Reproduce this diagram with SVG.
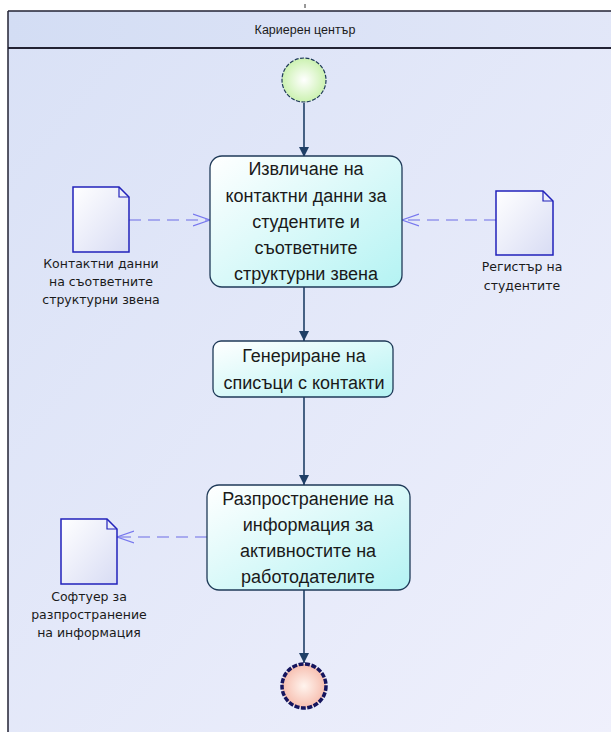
<svg xmlns="http://www.w3.org/2000/svg" width="611" height="734" viewBox="0 0 611 734">
<defs>
<linearGradient id="bg" x1="0" y1="0" x2="1" y2="1"><stop offset="0" stop-color="#d9e1f6"/><stop offset="1" stop-color="#eff0fc"/></linearGradient>
<linearGradient id="hdr" x1="0" y1="0" x2="1" y2="0"><stop offset="0" stop-color="#d3ddf4"/><stop offset="1" stop-color="#e2e7f8"/></linearGradient>
<linearGradient id="act" x1="0" y1="0" x2="1" y2="1"><stop offset="0" stop-color="#ffffff"/><stop offset="1" stop-color="#b4f3f3"/></linearGradient>
<linearGradient id="doc" x1="0" y1="0" x2="1" y2="1"><stop offset="0" stop-color="#ffffff"/><stop offset="1" stop-color="#d8dcf4"/></linearGradient>
<radialGradient id="startg" cx="0.5" cy="0.5" r="0.55"><stop offset="0" stop-color="#ffffff"/><stop offset="1" stop-color="#c6f0a8"/></radialGradient>
<radialGradient id="endg" cx="0.5" cy="0.5" r="0.55"><stop offset="0" stop-color="#fff4ee"/><stop offset="1" stop-color="#f6b8a8"/></radialGradient>
<marker id="solid" markerWidth="12" markerHeight="12" refX="10" refY="5" orient="auto" markerUnits="userSpaceOnUse"><path d="M0,0 L10,5 L0,10 z" fill="#1f3f66"/></marker>
<marker id="open" markerWidth="20" markerHeight="16" refX="17" refY="8" orient="auto" markerUnits="userSpaceOnUse"><path d="M0,2 L17,8 L0,14" fill="none" stroke="#7777ee" stroke-width="1.2"/></marker>
</defs>
<style>
.t{font-family:"Liberation Sans",Arial,sans-serif;fill:#1a1a1a;text-anchor:middle}
.big{font-size:18px}
.sm{font-family:"DejaVu Sans",Verdana,sans-serif;font-size:12.5px}
.box{fill:url(#act);stroke:#1f3a58;stroke-width:1.3}
.doc{fill:url(#doc);stroke:#2222bb;stroke-width:1.5}
.flow{stroke:#1f3f66;stroke-width:1.6;fill:none;marker-end:url(#solid)}
.dep{stroke:#6c6ce6;stroke-width:1.2;fill:none;stroke-dasharray:12,7;marker-end:url(#open)}
</style>
<rect x="0" y="0" width="611" height="734" fill="#ffffff"/>
<g id="pool">
<rect x="8" y="11" width="610" height="721" fill="url(#bg)"/>
<rect x="8" y="11" width="610" height="37" fill="url(#hdr)"/>
<line x1="8" y1="11" x2="611" y2="11" stroke="#222233" stroke-width="1.5"/>
<line x1="8" y1="48" x2="611" y2="48" stroke="#222233" stroke-width="2"/>
<line x1="8" y1="11" x2="8" y2="732" stroke="#222233" stroke-width="1.5"/>
<line x1="305" y1="4" x2="305" y2="8" stroke="#333" stroke-width="1"/>
<text class="t" x="305" y="34" font-size="12.5">Кариерен център</text>
</g>
<g id="connectors">
<path class="flow" d="M304,103 V157"/>
<path class="flow" d="M304,287 V341"/>
<path class="flow" d="M304,397 V485"/>
<path class="flow" d="M304,590 V663"/>
<path class="dep" d="M129,220 H210"/>
<path class="dep" d="M496,220 H402"/>
<path class="dep" d="M207,537 H117"/>
</g>
<g id="start">
<circle cx="304" cy="80" r="22" fill="url(#startg)" stroke="#1f3a58" stroke-width="1.2" stroke-dasharray="4,1.5"/>
</g>
<g id="a1">
<rect class="box" x="210" y="156" width="192" height="131" rx="12"/>
<text class="t big" x="306" y="175">Извличане на</text>
<text class="t big" x="306" y="202">контактни данни за</text>
<text class="t big" x="306" y="228">студентите и</text>
<text class="t big" x="306" y="254">съответните</text>
<text class="t big" x="306" y="280">структурни звена</text>
</g>
<g id="a2">
<rect class="box" x="213" y="341" width="180" height="56" rx="8"/>
<text class="t big" x="304" y="362">Генериране на</text>
<text class="t big" x="304" y="389">списъци с контакти</text>
</g>
<g id="a3">
<rect class="box" x="207" y="485" width="203" height="105" rx="12"/>
<text class="t big" x="308" y="505">Разпространение на</text>
<text class="t big" x="308" y="531">информация за</text>
<text class="t big" x="308" y="557">активностите на</text>
<text class="t big" x="308" y="583">работодателите</text>
</g>
<g id="end">
<circle cx="304" cy="686" r="22" fill="url(#endg)" stroke="#15155e" stroke-width="3.5" stroke-dasharray="5,1.5"/>
</g>
<g id="d1">
<path class="doc" d="M73,187 H119 L129,197 V252 H73 Z"/>
<path d="M119,187 V197 H129" fill="none" stroke="#2222bb" stroke-width="1.2"/>
<text class="t sm" x="101" y="268">Контактни данни</text>
<text class="t sm" x="101" y="286">на съответните</text>
<text class="t sm" x="101" y="304">структурни звена</text>
</g>
<g id="d2">
<path class="doc" d="M496,191 H543 L553,201 V255 H496 Z"/>
<path d="M543,191 V201 H553" fill="none" stroke="#2222bb" stroke-width="1.2"/>
<text class="t sm" x="522" y="271">Регистър на</text>
<text class="t sm" x="522" y="290">студентите</text>
</g>
<g id="d3">
<path class="doc" d="M61,519 H107 L117,529 V584 H61 Z"/>
<path d="M107,519 V529 H117" fill="none" stroke="#2222bb" stroke-width="1.2"/>
<text class="t sm" x="89" y="601">Софтуер за</text>
<text class="t sm" x="89" y="619">разпространение</text>
<text class="t sm" x="89" y="637">на информация</text>
</g>
</svg>
